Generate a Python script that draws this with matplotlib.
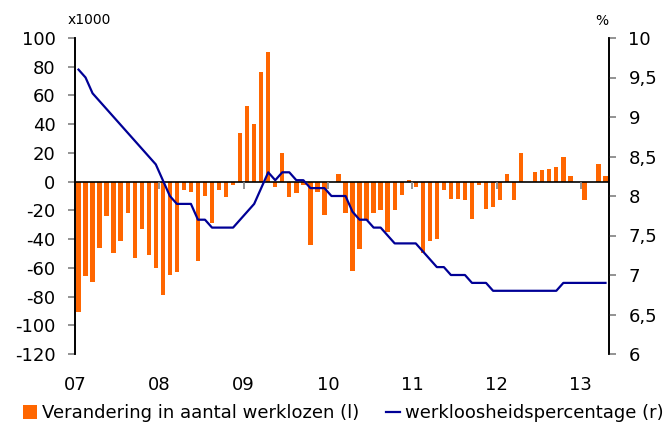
import numpy as np
import matplotlib
matplotlib.use('Agg')
import matplotlib.pyplot as plt
from matplotlib.patches import Patch
from matplotlib.lines import Line2D

plt.rcParams['font.family'] = ['DejaVu Sans']
plt.rcParams['axes.unicode_minus'] = False

# Monthly data, Jan 2007 - Apr 2013
years = ['07', '08', '09', '10', '11', '12', '13']
change_unemployed = [  # x1000, left axis
    -91, -66, -70, -46, -24, -50, -41, -22, -53, -33, -51, -60,
    -79, -65, -63, -6, -7, -55, -10, -29, -6, -11, -2, 34,
    53, 40, 76, 90, -4, 20, -11, -8, -2, -44, -7, -23,
    0, 5, -22, -62, -47, -27, -22, -20, -35, -20, -9, 1,
    -4, -50, -41, -40, -6, -12, -12, -13, -26, -2, -19, -18,
    -13, 5, -13, 20, 0, 7, 8, 9, 10, 17, 4, 0,
    -13, 0, 12, 4,
]
unemployment_rate = [  # %, right axis
    9.6, 9.5, 9.3, 9.2, 9.1, 9.0, 8.9, 8.8, 8.7, 8.6, 8.5, 8.4,
    8.2, 8.0, 7.9, 7.9, 7.9, 7.7, 7.7, 7.6, 7.6, 7.6, 7.6, 7.7,
    7.8, 7.9, 8.1, 8.3, 8.2, 8.3, 8.3, 8.2, 8.2, 8.1, 8.1, 8.1,
    8.0, 8.0, 8.0, 7.8, 7.7, 7.7, 7.6, 7.6, 7.5, 7.4, 7.4, 7.4,
    7.4, 7.3, 7.2, 7.1, 7.1, 7.0, 7.0, 7.0, 6.9, 6.9, 6.9, 6.8,
    6.8, 6.8, 6.8, 6.8, 6.8, 6.8, 6.8, 6.8, 6.8, 6.9, 6.9, 6.9,
    6.9, 6.9, 6.9, 6.9,
]

orange = '#FF6600'
navy = '#000096'

x = np.arange(len(change_unemployed))
year_pos = np.arange(len(years)) * 12 - 0.5

fig = plt.figure(figsize=(6.65, 4.29), dpi=100)
ax = fig.add_axes([75 / 665, 1 - 354 / 429, 534 / 665, 316 / 429])
ax2 = ax.twinx()

ax.bar(x, change_unemployed, width=0.62, color=orange, zorder=2)
ax.axhline(0, color='black', linewidth=1.2, zorder=3)
# small year tick marks on the zero line
ax.vlines(year_pos[1:], -5, 0, color='#808080', linewidth=1.2, zorder=3)

ax.set_xlim(-0.5, len(x) - 0.5)
ax.set_ylim(-120, 100)
ax.set_yticks(np.arange(-120, 101, 20))
ax.set_xticks(year_pos)
ax.set_xticklabels(years)
ax.tick_params(axis='x', length=0, pad=16, labelsize=13)
ax.tick_params(axis='y', length=5, width=1.2, color='#808080', pad=9, labelsize=13)

ax2.plot(x, unemployment_rate, color=navy, linewidth=1.6, zorder=4)
ax2.set_ylim(6, 10)
ax2.set_yticks(np.arange(6, 10.01, 0.5))
ax2.set_yticklabels([('%g' % v).replace('.', ',') for v in np.arange(6, 10.01, 0.5)])
ax2.tick_params(axis='y', length=5, width=1.2, color='#808080', pad=9, labelsize=13)

for a in (ax, ax2):
    a.spines['top'].set_visible(False)
    a.spines['bottom'].set_visible(False)
    a.spines['left'].set_linewidth(1.2)
    a.spines['right'].set_linewidth(1.2)

fig.text(68 / 665, 1 - 20 / 429, 'x1000', fontsize=10, va='center', ha='left')
fig.text(602 / 665, 1 - 21 / 429, '%', fontsize=10, va='center', ha='center')

handles = [Patch(facecolor=orange, edgecolor='none'),
           Line2D([0], [0], color=navy, linewidth=1.6)]
labels = ['Verandering in aantal werklozen (l)', 'werkloosheidspercentage (r)']
fig.legend(handles, labels, loc='lower center', bbox_to_anchor=(0.516, -0.022), ncol=2,
           frameon=False, fontsize=13, handlelength=0.8, handleheight=0.8,
           handletextpad=0.25, columnspacing=1.5)

fig.savefig('out.png', dpi=100)
